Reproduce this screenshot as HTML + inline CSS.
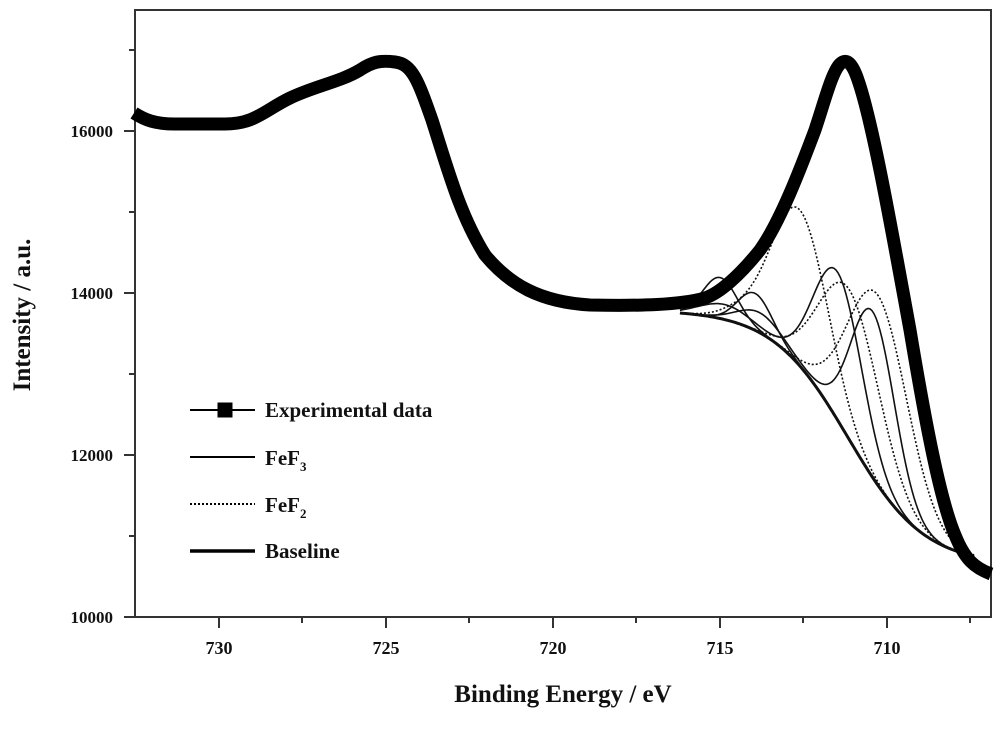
<!DOCTYPE html>
<html><head><meta charset="utf-8"><style>
body{margin:0;background:#fff;}
svg text{font-family:"Liberation Serif",serif;font-weight:bold;fill:#111;}
</style></head><body>
<svg id="s" width="1000" height="724" viewBox="0 0 1000 724" xmlns="http://www.w3.org/2000/svg">
<rect x="135" y="10" width="856" height="607" fill="none" stroke="#333" stroke-width="2"/>
<g stroke="#333" stroke-width="2">
<line x1="219" y1="617" x2="219" y2="628"/><line x1="386" y1="617" x2="386" y2="628"/>
<line x1="553" y1="617" x2="553" y2="628"/><line x1="720" y1="617" x2="720" y2="628"/>
<line x1="887" y1="617" x2="887" y2="628"/>
<line x1="302" y1="617" x2="302" y2="623"/><line x1="469" y1="617" x2="469" y2="623"/>
<line x1="636" y1="617" x2="636" y2="623"/><line x1="803" y1="617" x2="803" y2="623"/>
<line x1="970" y1="617" x2="970" y2="623"/>
<line x1="124" y1="617" x2="135" y2="617"/><line x1="124" y1="455" x2="135" y2="455"/>
<line x1="124" y1="293" x2="135" y2="293"/><line x1="124" y1="131" x2="135" y2="131"/>
<line x1="129" y1="536" x2="135" y2="536"/><line x1="129" y1="374" x2="135" y2="374"/>
<line x1="129" y1="212" x2="135" y2="212"/><line x1="129" y1="50" x2="135" y2="50"/>
</g>
<g font-size="18" text-anchor="middle">
<text x="219" y="654">730</text><text x="386" y="654">725</text><text x="553" y="654">720</text>
<text x="720" y="654">715</text><text x="887" y="654">710</text>
</g>
<g font-size="17" text-anchor="end">
<text x="113" y="623">10000</text><text x="113" y="461">12000</text>
<text x="113" y="299">14000</text><text x="113" y="137">16000</text>
</g>
<text x="563" y="702" font-size="25" text-anchor="middle">Binding Energy / eV</text>
<text transform="translate(30,315) rotate(-90)" font-size="25" text-anchor="middle">Intensity / a.u.</text>
<g id="fits" fill="none"></g>
<path d="M134,113 C145,120 155,124 175,124 L225,124 C255,124 265,110 290,98 C315,86 340,82 360,70 C372,62 380,60 395,62 C412,64 418,80 432,120 C448,170 460,215 485,255 C510,285 540,302 590,305 C640,306 680,305 705,298 C720,293 740,275 760,250 C780,222 800,170 815,130 C825,100 832,72 840,64 C846,58 852,62 858,80 C872,120 890,220 910,330 C925,420 940,500 955,535 C965,560 975,568 991,574" fill="none" stroke="#000" stroke-width="13" stroke-linejoin="round"/>
<g stroke="#000">
<line x1="190" y1="410" x2="255" y2="410" stroke-width="2"/>
<rect x="218" y="403" width="14" height="14" fill="#000"/>
<line x1="190" y1="457" x2="255" y2="457" stroke-width="2"/>
<line x1="190" y1="504" x2="255" y2="504" stroke-width="2" stroke-dasharray="2,2"/>
<line x1="190" y1="551" x2="255" y2="551" stroke-width="3.5"/>
</g>
<g font-size="21">
<text x="265" y="417">Experimental data</text>
<text x="265" y="465">FeF<tspan font-size="13" dy="6">3</tspan></text>
<text x="265" y="512">FeF<tspan font-size="13" dy="6">2</tspan></text>
<text x="265" y="558">Baseline</text>
</g>
</svg>
<script>
(function(){
function B(x){return 310+255/(1+Math.exp(-(x-848)/38));}
function g(x,c,h,s){return h*Math.exp(-(x-c)*(x-c)/(2*s*s));}
function path(f){var d="";for(var x=680;x<=975;x+=2){var y=f(x);d+=(x==680?"M":"L")+x+","+y.toFixed(1);}return d;}
var curves=[
 [function(x){return B(x);},3,null],
 [function(x){return B(x)-g(x,720,41,17);},1.6,null],
 [function(x){return B(x)-g(x,755,37,17);},1.6,null],
 [function(x){return B(x)-g(x,838,148,24)-g(x,725,15,25);},1.6,null],
 [function(x){return B(x)-g(x,873,166,22)-g(x,760,20,22);},1.6,null],
 [function(x){return B(x)-g(x,800,156,28)-g(x,740,10,20);},1.6,"2,2"],
 [function(x){return B(x)-g(x,850,150,30);},1.6,"2,2"],
 [function(x){return B(x)-g(x,878,190,30);},1.6,"2,2"]
];
var G=document.getElementById("fits"),ns="http://www.w3.org/2000/svg";
curves.forEach(function(c){var p=document.createElementNS(ns,"path");p.setAttribute("d",path(c[0]));p.setAttribute("stroke","#111");p.setAttribute("stroke-width",c[1]);if(c[2])p.setAttribute("stroke-dasharray",c[2]);G.appendChild(p);});
})();
</script>
</body></html>
